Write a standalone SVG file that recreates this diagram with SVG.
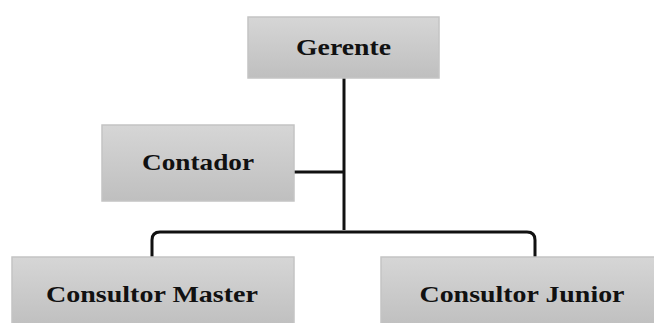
<svg xmlns="http://www.w3.org/2000/svg" width="654" height="323" viewBox="0 0 654 323">
<defs>
<linearGradient id="g" x1="0" y1="0" x2="0" y2="1">
<stop offset="0" stop-color="#d6d6d6"/>
<stop offset="1" stop-color="#bfbfbf"/>
</linearGradient>
<style>
.box{fill:url(#g);stroke:#c4c4c4;stroke-width:1.5}
.lbl{font-family:"Liberation Serif","Times New Roman",serif;font-weight:bold;font-size:23px;fill:#111;text-anchor:middle}
.ln{fill:none;stroke:#111;stroke-width:3}
</style>
</defs>
<rect width="654" height="323" fill="#fff"/>
<g id="connectors">
<path class="ln" d="M344 77 V230"/>
<path class="ln" d="M294 172 H344"/>
<path class="ln" d="M152 257 V240 Q152 232 160 232 H527 Q535 232 535 240 V257"/>
</g>
<g id="gerente">
<rect class="box" x="248" y="17" width="191" height="61"/>
<text class="lbl" x="343.5" y="55" textLength="95" lengthAdjust="spacingAndGlyphs">Gerente</text>
</g>
<g id="contador">
<rect class="box" x="102" y="125" width="192" height="76"/>
<text class="lbl" x="198" y="170" textLength="112" lengthAdjust="spacingAndGlyphs">Contador</text>
</g>
<g id="consultor-master">
<rect class="box" x="12" y="257" width="282" height="70"/>
<text class="lbl" x="152" y="302" textLength="212" lengthAdjust="spacingAndGlyphs">Consultor Master</text>
</g>
<g id="consultor-junior">
<rect class="box" x="381" y="257" width="280" height="70"/>
<text class="lbl" x="522" y="302" textLength="205" lengthAdjust="spacingAndGlyphs">Consultor Junior</text>
</g>
</svg>
